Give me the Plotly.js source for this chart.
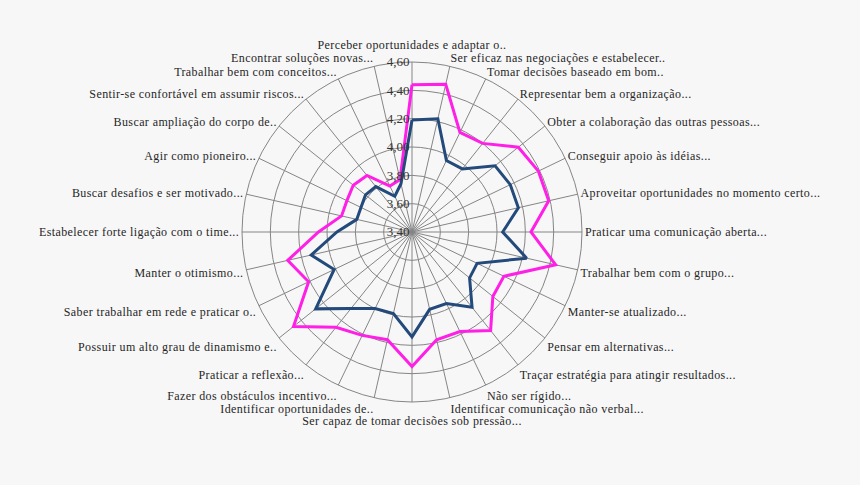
<!DOCTYPE html>
<html>
<head>
<meta charset="utf-8">
<script src="https://cdn.plot.ly/plotly-3.0.1.min.js"></script>
<style>
  html, body { margin: 0; padding: 0; background: #f7f7f7; }
  #chart { width: 860px; height: 485px; }
  /* the reference font is set loose */
  #chart .angularaxistick text, #chart .radialaxistick text { letter-spacing: 0.4px; }
</style>
</head>
<body>
<div id="chart"></div>
<script>
const categories = [
  'Perceber oportunidades e adaptar o..',
  'Ser eficaz nas negociações e estabelecer..',
  'Tomar decisões baseado em bom..',
  'Representar bem a organização...',
  'Obter a colaboração das outras pessoas...',
  'Conseguir apoio às idéias...',
  'Aproveitar oportunidades no momento certo...',
  'Praticar uma comunicação aberta...',
  'Trabalhar bem com o grupo...',
  'Manter-se atualizado...',
  'Pensar em alternativas...',
  'Traçar estratégia para atingir resultados...',
  'Não ser rígido...',
  'Identificar comunicação não verbal...',
  'Ser capaz de tomar decisões sob pressão...',
  'Identificar oportunidades de..',
  'Fazer dos obstáculos incentivo...',
  'Praticar a reflexão...',
  'Possuir um alto grau de dinamismo e..',
  'Saber trabalhar em rede e praticar o..',
  'Manter o otimismo...',
  'Estabelecer forte ligação com o time...',
  'Buscar desafios e ser motivado...',
  'Agir como pioneiro...',
  'Buscar ampliação do corpo de..',
  'Sentir-se confortável em assumir riscos...',
  'Trabalhar bem com conceitos...',
  'Encontrar soluções novas...'
];

const blueValues = [
  4.19, 4.22, 3.96, 3.97, 4.15, 4.17, 4.17, 4.04, 4.23, 3.91,
  3.92, 4.08, 3.96, 3.96, 4.14, 3.99, 4.00, 4.09, 4.27, 4.01,
  4.13, 3.93, 3.80, 3.80, 3.82, 3.81, 3.68, 3.75
];
const pinkValues = [
  4.44, 4.47, 4.18, 4.20, 4.36, 4.39, 4.39, 4.24, 4.44, 4.12,
  4.13, 4.29, 4.18, 4.18, 4.35, 4.18, 4.21, 4.26, 4.47, 4.21,
  4.30, 4.06, 3.91, 3.91, 3.93, 3.91, 3.76, 3.78
];
const radialTicks = [3.4, 3.6, 3.8, 4.0, 4.2, 4.4, 4.6];
const radialRange = [3.4, 4.6];

// top and bottom labels sit a bit further out, drawn on an overlaid polar
const farLabels = [0, 14];

const closed = arr => arr.concat([arr[0]]);

const GRID = '#858585';
const TEXT = '#262626';
const FONT = 'Liberation Serif, Times New Roman, serif';
const fullDomain = { x: [0, 1], y: [0, 1] };

const traces = [
  {
    type: 'scatterpolar',
    mode: 'lines',
    r: closed(pinkValues),
    theta: closed(categories),
    line: { color: '#ff1fe6', width: 3 },
    hoverinfo: 'r+theta'
  },
  {
    type: 'scatterpolar',
    mode: 'lines',
    r: closed(blueValues),
    theta: closed(categories),
    line: { color: '#234a7a', width: 3 },
    hoverinfo: 'r+theta'
  },
  {
    // invisible copy so polar2 gets the same categories
    type: 'scatterpolar',
    subplot: 'polar2',
    mode: 'lines',
    r: closed(pinkValues),
    theta: closed(categories),
    line: { color: 'rgba(0,0,0,0)', width: 0 },
    hoverinfo: 'skip'
  }
];

const layout = {
  width: 860,
  height: 485,
  margin: { l: 0, r: 36, t: 62, b: 83 },
  paper_bgcolor: '#f7f7f7',
  plot_bgcolor: '#f7f7f7',
  showlegend: false,
  separators: ',.',
  font: { family: FONT, size: 12, color: TEXT },
  polar: {
    domain: fullDomain,
    bgcolor: '#f7f7f7',
    radialaxis: {
      range: radialRange,
      tickvals: radialTicks,
      tickformat: '.2f',
      angle: 90,
      tickangle: 90,
      side: 'counterclockwise',
      showline: false,
      ticks: '',
      gridcolor: GRID,
      gridwidth: 1,
      tickfont: { family: FONT, size: 13, color: '#333' }
    },
    angularaxis: {
      direction: 'clockwise',
      rotation: 90,
      tickvals: categories,
      ticktext: categories.map((c, i) => farLabels.includes(i) ? '' : c),
      gridcolor: GRID,
      gridwidth: 1,
      linecolor: GRID,
      linewidth: 1,
      showline: true,
      ticks: '',
      tickfont: { family: FONT, size: 12, color: TEXT }
    }
  },
  polar2: {
    domain: fullDomain,
    bgcolor: 'rgba(0,0,0,0)',
    radialaxis: { range: radialRange, visible: false },
    angularaxis: {
      direction: 'clockwise',
      rotation: 90,
      tickvals: farLabels.map(i => categories[i]),
      ticktext: farLabels.map(i => categories[i]),
      showgrid: false,
      showline: false,
      ticks: 'outside',
      ticklen: 8,
      tickcolor: 'rgba(0,0,0,0)',
      tickfont: { family: FONT, size: 12, color: TEXT }
    }
  }
};

Plotly.newPlot('chart', traces, layout, { displayModeBar: false, staticPlot: true });
</script>
</body>
</html>
